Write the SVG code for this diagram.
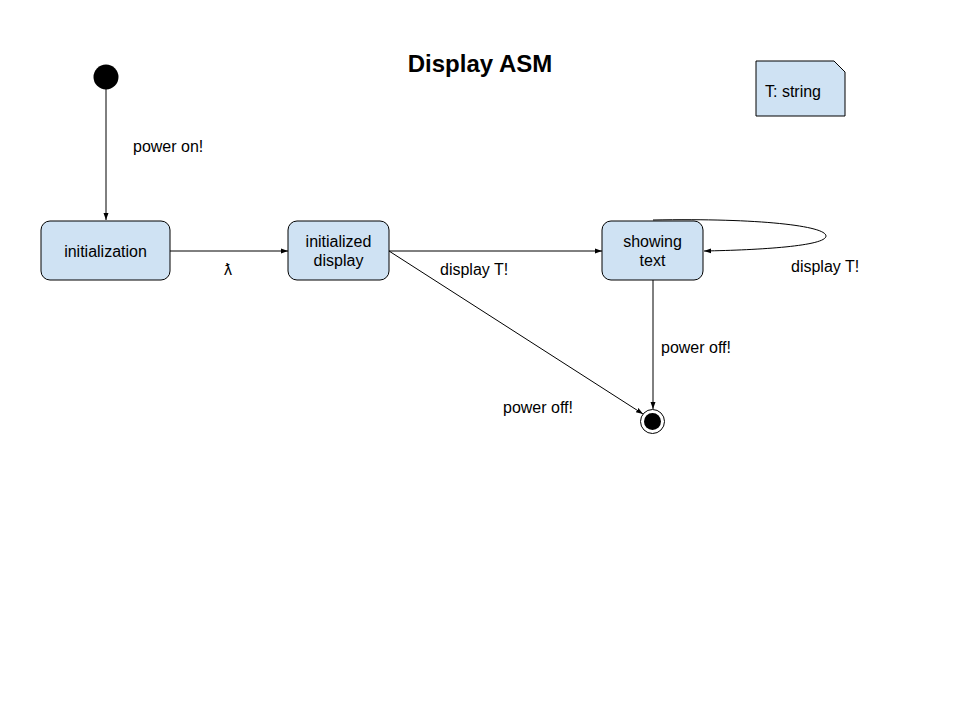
<svg xmlns="http://www.w3.org/2000/svg" width="960" height="720" viewBox="0 0 960 720">
<style>
.st{fill:#cfe2f3;stroke:#000;stroke-width:1}
.t{font-family:Arial,"Liberation Sans",sans-serif;font-size:16px;fill:#000}
.c{fill:none;stroke:#000;stroke-width:1}
</style>
<defs>
<marker id="ah" markerWidth="8" markerHeight="8" refX="7" refY="4" orient="auto" markerUnits="userSpaceOnUse">
<path d="M0,1.5 L7,4 L0,6.5 Z" fill="#000"/>
</marker>
</defs>
<rect width="960" height="720" fill="#fff"/>
<text x="480" y="72" text-anchor="middle" font-family="Arial,'Liberation Sans',sans-serif" font-size="24" font-weight="bold">Display ASM</text>
<g id="connectors">
<line class="c" x1="106" y1="89" x2="106" y2="220" marker-end="url(#ah)"/>
<line class="c" x1="170" y1="251" x2="288" y2="251" marker-end="url(#ah)"/>
<line class="c" x1="389" y1="251" x2="602" y2="251" marker-end="url(#ah)"/>
<line class="c" x1="389" y1="251" x2="643" y2="414" marker-end="url(#ah)"/>
<line class="c" x1="653" y1="280" x2="653" y2="409" marker-end="url(#ah)"/>
<path class="c" d="M653,220 C760,218 826,226 826,236 C826,246 760,250 704,251" marker-end="url(#ah)"/>
<text class="t" x="133" y="152">power on!</text>
<text class="t" x="224" y="275">ƛ</text>
<text class="t" x="440" y="275">display T!</text>
<text class="t" x="791" y="272">display T!</text>
<text class="t" x="661" y="353">power off!</text>
<text class="t" x="503" y="413">power off!</text>
</g>
<g id="start"><circle cx="106" cy="77" r="12.5" fill="#000"/></g>
<g id="initialization">
<rect class="st" x="41" y="221" width="129" height="59" rx="9"/>
<text class="t" x="105.5" y="257" text-anchor="middle">initialization</text>
</g>
<g id="initialized-display">
<rect class="st" x="288" y="221" width="101" height="59" rx="9"/>
<text class="t" x="338.5" y="247" text-anchor="middle">initialized</text>
<text class="t" x="338.5" y="266" text-anchor="middle">display</text>
</g>
<g id="showing-text">
<rect class="st" x="602" y="221" width="101" height="59" rx="9"/>
<text class="t" x="652.5" y="247" text-anchor="middle">showing</text>
<text class="t" x="652.5" y="266" text-anchor="middle">text</text>
</g>
<g id="end">
<circle cx="652.5" cy="421.5" r="12" fill="#fff" stroke="#000" stroke-width="1"/>
<circle cx="652.5" cy="421.5" r="8.5" fill="#000"/>
</g>
<g id="note">
<path class="st" d="M756,61 H834 L845,72 V116 H756 Z"/>
<text class="t" x="765" y="97">T: string</text>
</g>
</svg>
